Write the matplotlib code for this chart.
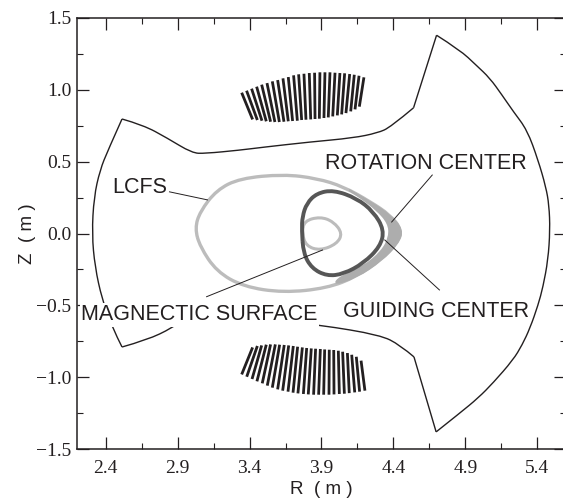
import numpy as np
import matplotlib
matplotlib.use('Agg')
import matplotlib.pyplot as plt
from matplotlib.path import Path
from matplotlib.patches import PathPatch
from matplotlib.ticker import MultipleLocator, FixedLocator

# vessel wall pieces, split at the sharp corners
wall_top_r = [2.513, 2.66, 2.826, 3.0, 3.09, 3.33, 3.49, 3.82, 4.12, 4.29, 4.38, 4.54]
wall_top_z = [0.797, 0.755, 0.665, 0.56, 0.557, 0.58, 0.60, 0.637, 0.665, 0.70, 0.74, 0.875]
wall_up_r = [4.54, 4.70]
wall_up_z = [0.875, 1.38]
wall_arc_r = [4.70, 4.863, 4.975, 5.07, 5.155, 5.236, 5.33, 5.406, 5.46, 5.482, 5.489, 5.475, 5.44,
              5.406, 5.35, 5.295, 5.232, 5.093, 4.989, 4.863, 4.697]
wall_arc_z = [1.38, 1.277, 1.172, 1.082, 0.964, 0.846, 0.72, 0.511, 0.324, 0.198, 0.024, -0.184, -0.372,
              -0.498, -0.658, -0.776, -0.88, -1.04, -1.145, -1.249, -1.381]
wall_down_r = [4.697, 4.543]
wall_down_z = [-1.381, -0.859]
wall_bot_r = [4.543, 4.446, 4.307, 3.89, 3.556, 3.09, 3.0, 2.861, 2.687, 2.513]
wall_bot_z = [-0.859, -0.776, -0.706, -0.637, -0.602, -0.56, -0.56, -0.658, -0.741, -0.79]
wall_left_r = [2.513, 2.443, 2.374, 2.325, 2.304, 2.318, 2.36, 2.416, 2.513]
wall_left_z = [-0.79, -0.651, -0.456, -0.233, -0.003, 0.254, 0.442, 0.581, 0.797]

lcfs_r = [3.02, 3.055, 3.171, 3.333, 3.635, 3.867, 4.053, 4.238, 4.377, 4.459, 4.424, 4.308,
          4.145, 3.937, 3.635, 3.357, 3.171, 3.055]
lcfs_z = [0.036, 0.152, 0.303, 0.384, 0.412, 0.384, 0.326, 0.222, 0.129, 0.025, -0.068, -0.184,
          -0.30, -0.381, -0.412, -0.37, -0.265, -0.091]

orbit_r = [3.763, 3.767, 3.797, 3.867, 3.983, 4.145, 4.261, 4.336, 4.308, 4.192, 4.053, 3.937,
           3.832, 3.774]
orbit_z = [0.025, 0.117, 0.21, 0.28, 0.303, 0.245, 0.152, 0.025, -0.091, -0.207, -0.282, -0.296,
           -0.242, -0.138]

band_r = [4.053, 4.238, 4.377, 4.466, 4.435, 4.319, 4.145, 3.983, 4.03, 4.192, 4.319, 4.373,
          4.366, 4.285, 4.169]
band_z = [0.326, 0.222, 0.129, 0.025, -0.068, -0.189, -0.305, -0.358, -0.30, -0.231, -0.126,
          -0.022, 0.071, 0.164, 0.252]

surface_r = [3.779, 3.89, 3.983, 4.046, 4.006, 3.89, 3.793, 3.765]
surface_z = [0.087, 0.117, 0.083, 0.001, -0.073, -0.119, -0.087, 0.001]

# coil stripes, one top end and one bottom end each
upper_top_r = [3.345, 3.379, 3.414, 3.449, 3.484, 3.521, 3.558, 3.595, 3.632, 3.669, 3.706, 3.741,
               3.778, 3.815, 3.852, 3.889, 3.924, 3.959, 3.994, 4.028, 4.061, 4.096, 4.128, 4.161, 4.195]
upper_top_z = [0.98, 0.994, 1.008, 1.022, 1.036, 1.047, 1.059, 1.068, 1.08, 1.089, 1.101, 1.108,
               1.112, 1.117, 1.119, 1.122, 1.122, 1.122, 1.119, 1.117, 1.115, 1.11, 1.105, 1.098, 1.087]
upper_bot_r = [3.421, 3.454, 3.486, 3.516, 3.546, 3.576, 3.607, 3.639, 3.669, 3.699, 3.732, 3.762,
               3.792, 3.825, 3.855, 3.885, 3.917, 3.947, 3.978, 4.01, 4.04, 4.07, 4.103, 4.133, 4.163]
upper_bot_z = [0.794, 0.79, 0.785, 0.781, 0.778, 0.776, 0.776, 0.778, 0.781, 0.783, 0.785, 0.79,
               0.792, 0.794, 0.797, 0.799, 0.804, 0.808, 0.815, 0.822, 0.829, 0.838, 0.85, 0.864, 0.883]

lower_top_r = [3.421, 3.454, 3.484, 3.516, 3.546, 3.579, 3.609, 3.641, 3.672, 3.704, 3.734, 3.767,
               3.797, 3.829, 3.859, 3.892, 3.922, 3.954, 3.985, 4.017, 4.047, 4.08, 4.11, 4.142, 4.175]
lower_top_z = [-0.793, -0.783, -0.779, -0.774, -0.772, -0.772, -0.774, -0.776, -0.779, -0.783, -0.788, -0.793,
               -0.797, -0.8, -0.802, -0.804, -0.807, -0.809, -0.811, -0.816, -0.823, -0.832, -0.844, -0.858, -0.885]
lower_bot_r = [3.345, 3.38, 3.417, 3.451, 3.488, 3.523, 3.558, 3.595, 3.63, 3.667, 3.702, 3.736,
               3.774, 3.808, 3.845, 3.88, 3.915, 3.952, 3.987, 4.024, 4.059, 4.093, 4.131, 4.165, 4.202]
lower_bot_z = [-0.981, -0.997, -1.013, -1.029, -1.043, -1.059, -1.073, -1.085, -1.094, -1.101, -1.108, -1.113,
               -1.117, -1.12, -1.122, -1.122, -1.122, -1.122, -1.12, -1.117, -1.115, -1.111, -1.106, -1.101, -1.094]

x_ticks = [2.4, 2.9, 3.4, 3.9, 4.4, 4.9, 5.4]
x_labels = ['2.4', '2.9', '3.4', '3.9', '4.4', '4.9', '5.4']
y_ticks = [-1.5, -1.0, -0.5, 0.0, 0.5, 1.0, 1.5]
y_labels = ['\u22121.5', '\u22121.0', '\u22120.5', '0.0', '0.5', '1.0', '1.5']

ink = '#231f20'
sans = 'Liberation Sans'
serif = 'Liberation Serif'


# the read points act as quadratic bezier controls, so agg draws a smooth curve
def curve(ax, r, z, closed=False, **kw):
    p = np.column_stack([r, z])
    if closed:
        start = (p[-1] + p[0]) / 2
        verts = [start]
        codes = [Path.MOVETO]
        for i in range(len(p)):
            verts += [p[i], (p[i] + p[(i + 1) % len(p)]) / 2]
            codes += [Path.CURVE3, Path.CURVE3]
    else:
        verts = [p[0]]
        codes = [Path.MOVETO]
        for i in range(1, len(p) - 1):
            end = p[i + 1] if i == len(p) - 2 else (p[i] + p[i + 1]) / 2
            verts += [p[i], end]
            codes += [Path.CURVE3, Path.CURVE3]
        if len(p) == 2:
            verts.append(p[1])
            codes.append(Path.LINETO)
    ax.add_patch(PathPatch(Path(verts, codes), **kw))


fig = plt.figure(figsize=(5.63, 5.0), dpi=100)
ax = fig.add_axes([77 / 563, 51 / 500, 489 / 563, 431 / 500])

# coils
for i in range(len(upper_top_r)):
    ax.plot([upper_top_r[i], upper_bot_r[i]], [upper_top_z[i], upper_bot_z[i]],
            color=ink, lw=2.0, solid_capstyle='butt')
for i in range(len(lower_top_r)):
    ax.plot([lower_top_r[i], lower_bot_r[i]], [lower_top_z[i], lower_bot_z[i]],
            color=ink, lw=2.0, solid_capstyle='butt')

pieces = [(wall_top_r, wall_top_z), (wall_up_r, wall_up_z), (wall_arc_r, wall_arc_z),
          (wall_down_r, wall_down_z), (wall_bot_r, wall_bot_z), (wall_left_r, wall_left_z)]
for r, z in pieces:
    curve(ax, r, z, fc='none', ec=ink, lw=1.0)

curve(ax, lcfs_r, lcfs_z, closed=True, fc='none', ec='#bcbcbc', lw=2.4)
curve(ax, surface_r, surface_z, closed=True, fc='none', ec='#bcbcbc', lw=2.2)
curve(ax, band_r, band_z, closed=True, fc='#adadad', ec='#adadad', lw=1.2)
curve(ax, orbit_r, orbit_z, closed=True, fc='none', ec='#565656', lw=2.8)

# leader lines
ax.plot([2.843, 3.107], [0.29, 0.234], color=ink, lw=0.7)
ax.plot([3.101, 3.907], [-0.44, -0.115], color=ink, lw=0.7)
ax.plot([4.67, 4.388], [0.407, 0.08], color=ink, lw=0.7)
ax.plot([4.34, 4.72], [-0.045, -0.393], color=ink, lw=0.7)

ax.text(2.443, 0.317, 'LCFS', family=sans, fontsize=15.5, color=ink, va='center')
ax.text(3.925, 0.484, 'ROTATION CENTER', family=sans, fontsize=15.5, color=ink, va='center')
ax.text(4.05, -0.54, 'GUIDING CENTER', family=sans, fontsize=15.5, color=ink, va='center')
ax.text(2.228, -0.567, 'MAGNECTIC SURFACE', family=sans, fontsize=15.5, color=ink, va='center',
        bbox=dict(facecolor='white', edgecolor='none', pad=1.0), zorder=5)

ax.set_xlim(2.2, 5.6)
ax.set_ylim(-1.5, 1.5)
ax.xaxis.set_major_locator(FixedLocator(x_ticks))
ax.yaxis.set_major_locator(FixedLocator(y_ticks))
ax.xaxis.set_minor_locator(MultipleLocator(0.25, offset=0.15))
ax.yaxis.set_minor_locator(MultipleLocator(0.25))
ax.set_xticklabels(x_labels, family=serif, fontsize=14, color=ink)
ax.set_yticklabels(y_labels, family=serif, fontsize=14, color=ink)
ax.tick_params(which='major', direction='in', top=True, right=True, length=8.5, width=0.9,
               color=ink)
ax.tick_params(which='minor', direction='in', top=True, right=True, length=4.5, width=0.8,
               color=ink)
ax.tick_params(axis='x', which='major', pad=8)
ax.tick_params(axis='y', which='major', pad=4)
for s in ax.spines.values():
    s.set_linewidth(1.1)
    s.set_color(ink)

ax.set_xlabel('R  ( m )', family=sans, fontsize=13.5, color=ink, labelpad=3)
ax.set_ylabel('Z  ( m )', family=sans, fontsize=13.5, color=ink, labelpad=0)

fig.savefig('out.png', dpi=100)
